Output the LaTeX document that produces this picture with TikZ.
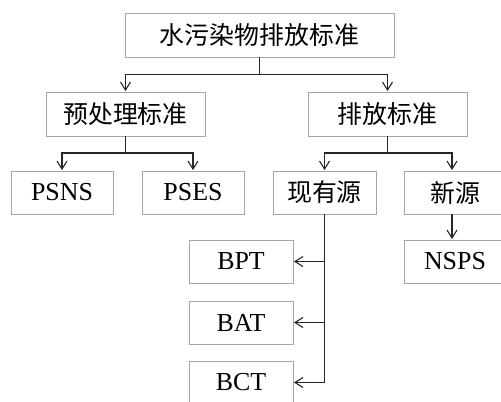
\documentclass[tikz,border=0pt]{standalone}
\usepackage{fontspec}
\setmainfont{Liberation Serif}
\newfontfamily\cjk{Noto Sans CJK SC}
\usetikzlibrary{arrows.meta}
\definecolor{boxgray}{HTML}{A6A6A6}
\definecolor{linecol}{HTML}{262626}
\begin{document}
\begin{tikzpicture}[x=1bp,y=-1bp,
  box/.style={draw=boxgray, line width=0.9bp, minimum height=43bp, inner sep=0pt, text=black},
  cbox/.style={box, font=\cjk\fontsize{25}{29}\selectfont},
  lbox/.style={box, font=\fontsize{26}{30}\selectfont},
  conn/.style={draw=linecol, line width=1.3bp},
  arr/.style={conn, -{Straight Barb[length=8bp,width=10bp,line width=1.1bp]}, shorten >=0.5bp}]
\useasboundingbox (0,0) rectangle (501,401);
% nodes
\node[cbox, minimum width=269bp, minimum height=44bp] (top) at (259.5,35) {水污染物排放标准};
\node[cbox, minimum width=159bp, minimum height=44bp] (pre) at (125.5,114) {预处理标准};
\node[cbox, minimum width=159bp, minimum height=44bp] (dis) at (387.5,114) {排放标准};
\node[lbox, minimum width=102bp] (psns) at (62,192.5) {PSNS};
\node[lbox, minimum width=102bp] (pses) at (193,192.5) {PSES};
\node[cbox, minimum width=103bp] (exist) at (324.5,192.5) {现有源};
\node[cbox, minimum width=102bp] (new) at (455,192.5) {新源};
\node[lbox, minimum width=102bp] (nsps) at (455,261.5) {NSPS};
\node[lbox, minimum width=104bp] (bpt) at (241,261.5) {BPT};
\node[lbox, minimum width=104bp] (bat) at (241,322.5) {BAT};
\node[lbox, minimum width=104bp] (bct) at (241,382.5) {BCT};
% connector junctions
\coordinate (j1) at (259.5,74.5);
\coordinate (j2) at (125.5,153);
\coordinate (j3) at (387.5,153);
\coordinate (nx) at (452,214);
% level 1
\draw[conn] (top.south) -- (j1);
\draw[arr] (j1) -| (pre.north);
\draw[arr] (j1) -| (dis.north);
% level 2 left
\draw[conn] (pre.south) -- (j2);
\draw[arr] (j2) -| (psns.north);
\draw[arr] (j2) -| (pses.north);
% level 2 right
\draw[conn] (dis.south) -- (j3);
\draw[arr] (j3) -| (exist.north);
\draw[arr] (j3) -| (nx |- new.north);
% new -> NSPS
\draw[arr] (nx) -- (nx |- nsps.north);
% existing -> BPT, BAT, BCT
\draw[conn] (exist.south) -- (exist.south |- bct.east);
\draw[arr] (exist.south |- bpt.east) -- (bpt.east);
\draw[arr] (exist.south |- bat.east) -- (bat.east);
\draw[arr] (exist.south |- bct.east) -- (bct.east);
\end{tikzpicture}
\end{document}
